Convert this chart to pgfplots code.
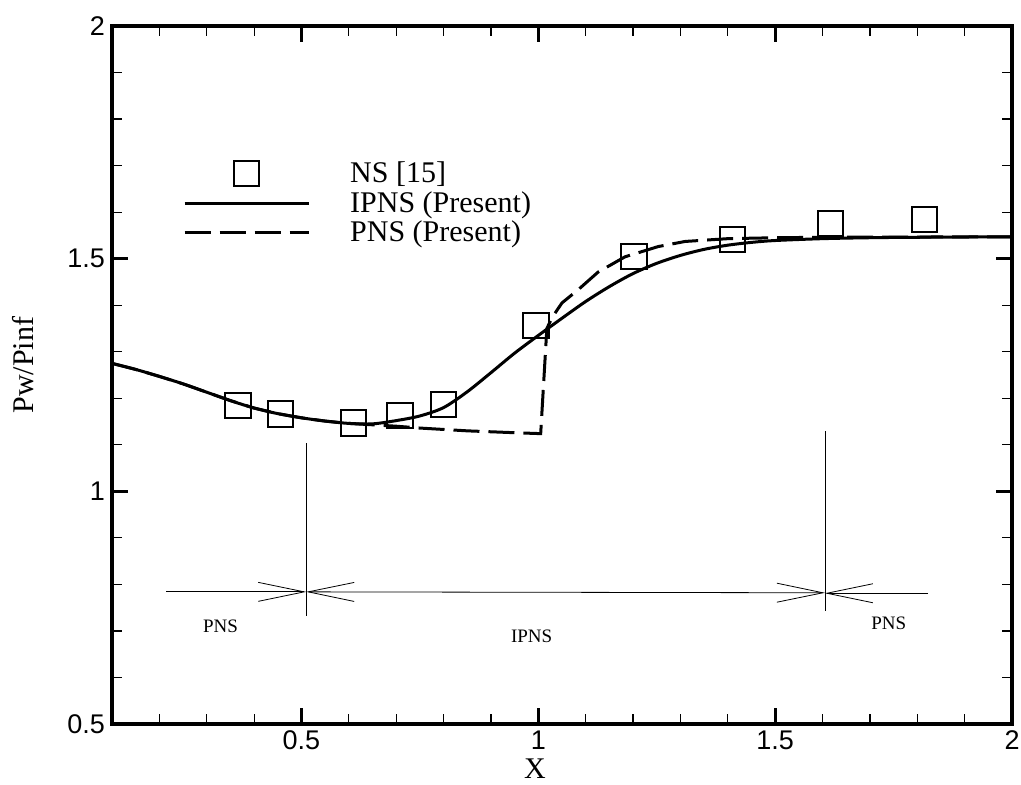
\documentclass[border=0pt]{standalone}
\usepackage{fontspec}
\setmainfont{Liberation Serif}
\newfontfamily\hel{Liberation Sans}
\usepackage{pgfplots}
\pgfplotsset{compat=1.18}
\usetikzlibrary{arrows.meta}
\pgfplotsset{
    lineleg/.style={legend image code/.code={\draw[##1] (0pt,0pt) -- (62pt,0pt);}},
    markleg/.style={legend image code/.code={\draw[mark repeat=2,mark phase=2,##1] plot coordinates {(0pt,0pt)(31pt,0pt)(62pt,0pt)};}},
}

\begin{document}
\begin{tikzpicture}
\useasboundingbox (-56pt,-30pt) rectangle (454.5pt,362pt);
\begin{axis}[
    scale only axis, width=450pt, height=349pt,
    xmin=0.1, xmax=2, ymin=0.5, ymax=2,
    xtick={0.5,1,1.5,2}, ytick={0.5,1,1.5,2},
    minor xtick={0.2,0.3,0.4,0.6,0.7,0.8,0.9,1.1,1.2,1.3,1.4,1.6,1.7,1.8,1.9},
    minor ytick={0.6,0.7,0.8,0.9,1.1,1.2,1.3,1.4,1.6,1.7,1.8,1.9},
    tick align=inside, xtick pos=both, ytick pos=both,
    xticklabel pos=lower, yticklabel pos=left,
    major tick length=8pt, minor tick length=5pt,
    major tick style={line width=1.4pt, black},
    minor tick style={line width=0.6pt, black},
    axis line style={line width=2pt},
    /pgf/number format/assume math mode=true,
    tick label style={font=\hel\fontsize{13.5}{15}\selectfont},
    xlabel={X}, ylabel={Pw/Pinf},
    label style={font=\fontsize{15}{17}\selectfont},
    xlabel style={at={(rel axis cs:0.47,0)}, anchor=base, inner sep=0pt, yshift=-27pt},
    ylabel style={at={(rel axis cs:-0.0989,0.514)}, anchor=center},
    legend cell align=left,
    legend style={draw=none, fill=none, at={(rel axis cs:0.072,0.818)}, anchor=north west,
        font=\fontsize{15}{17}\selectfont, row sep=-1pt,
        /tikz/every odd column/.append style={column sep=18pt}},
]
% NS [15]
\addplot[only marks, mark=square, mark size=6.3pt, mark options={line width=1pt}, markleg]
coordinates {
    (0.366,1.184) (0.455,1.166) (0.609,1.147) (0.708,1.163) (0.799,1.186)
    (0.995,1.356) (1.202,1.504) (1.410,1.541) (1.616,1.576) (1.815,1.585)
};
\addlegendentry{NS [15]}
% IPNS (Present)
\addplot[line width=1.5pt, smooth, lineleg]
coordinates {
    (0.10,1.275) (0.15,1.262) (0.20,1.247) (0.25,1.231) (0.30,1.213) (0.35,1.195)
    (0.40,1.179) (0.45,1.167) (0.50,1.158) (0.55,1.151) (0.60,1.146) (0.65,1.145)
    (0.70,1.152) (0.75,1.162) (0.80,1.180) (0.85,1.214) (0.90,1.255) (0.95,1.297)
    (1.00,1.335) (1.05,1.372) (1.10,1.408) (1.15,1.440) (1.20,1.468) (1.25,1.490)
    (1.30,1.507) (1.35,1.520) (1.40,1.529) (1.45,1.535) (1.50,1.539) (1.60,1.543)
    (1.70,1.545) (1.80,1.546) (2.00,1.547)
};
\addlegendentry{IPNS (Present)}
% PNS (Present)
\addplot[line width=1.5pt, dash pattern=on 13pt off 4.5pt, lineleg]
coordinates {
    (0.10,1.275) (0.15,1.262) (0.20,1.247) (0.25,1.231) (0.30,1.213) (0.35,1.195)
    (0.40,1.179) (0.45,1.167) (0.50,1.158) (0.55,1.151) (0.60,1.146) (0.65,1.143)
    (0.70,1.140) (0.75,1.136) (0.80,1.133) (0.85,1.130) (0.90,1.128) (0.95,1.126)
    (1.005,1.124) (1.018,1.350) (1.03,1.375) (1.05,1.405) (1.085,1.434) (1.126,1.471)
    (1.183,1.504) (1.253,1.526) (1.31,1.537) (1.40,1.543) (1.50,1.545) (1.60,1.546)
    (2.00,1.547)
};
\addlegendentry{PNS (Present)}

% region markers
\draw[line width=0.4pt] (axis cs:0.51,0.733) -- (axis cs:0.51,1.104);
\draw[line width=0.4pt] (axis cs:1.605,0.743) -- (axis cs:1.605,1.13);
\draw[line width=0.4pt, -{Straight Barb[length=23pt,width=9.5pt]}] (axis cs:0.215,0.784) -- (axis cs:0.51,0.784);
\draw[line width=0.4pt, {Straight Barb[length=23pt,width=9.5pt]}-{Straight Barb[length=23pt,width=9.5pt]}] (axis cs:0.51,0.784) -- (axis cs:1.605,0.782);
\draw[line width=0.4pt, -{Straight Barb[length=23pt,width=9.5pt]}] (axis cs:1.823,0.781) -- (axis cs:1.605,0.781);
\node[font=\fontsize{9.5}{11}\selectfont] at (axis cs:0.329,0.711) {PNS};
\node[font=\fontsize{9.5}{11}\selectfont] at (axis cs:0.986,0.688) {IPNS};
\node[font=\fontsize{9.5}{11}\selectfont] at (axis cs:1.74,0.717) {PNS};
\end{axis}
\end{tikzpicture}
\end{document}
